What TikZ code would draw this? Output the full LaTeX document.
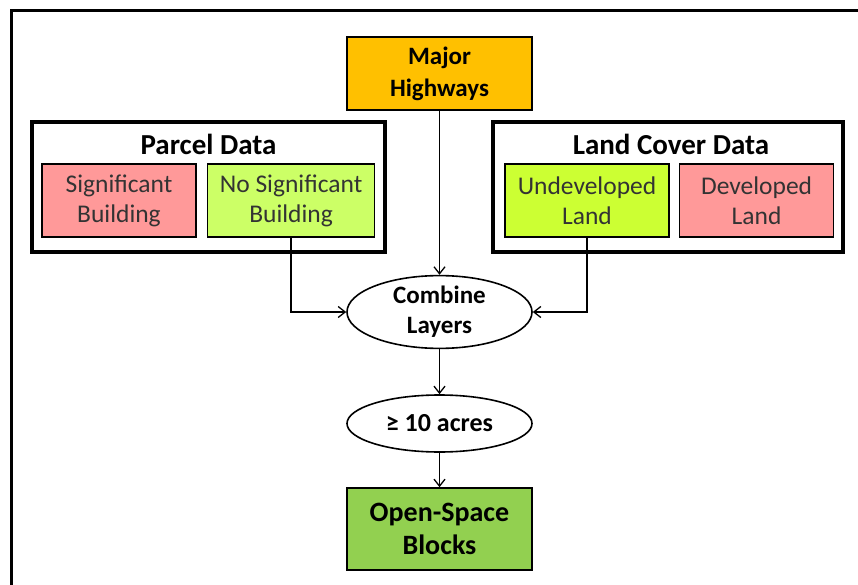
\documentclass[tikz,border=0pt]{standalone}
\usepackage{fontspec}
\setmainfont{Carlito}
\usepackage{tikz}
\usetikzlibrary{shapes.geometric,arrows.meta,positioning}

\definecolor{hwyorange}{RGB}{255,192,0}
\definecolor{builtpink}{RGB}{255,153,153}
\definecolor{openlime}{RGB}{204,255,102}
\definecolor{undevlime}{RGB}{204,255,51}
\definecolor{blockgreen}{RGB}{146,208,80}

\begin{document}
\begin{tikzpicture}[x=1pt,y=-1pt,
    every node/.style={align=center,inner sep=0pt},
    datagroup/.style={draw,line width=4pt,minimum height=130pt},
    layer/.style={draw,line width=1.6pt,minimum height=73pt,text=black!80,
      font=\fontsize{25.5}{30}\selectfont},
    grouptitle/.style={font=\fontsize{29}{33}\selectfont\bfseries},
    process/.style={draw,ellipse,line width=1.6pt,minimum width=185pt,
      font=\fontsize{25}{30}\selectfont\bfseries},
    result/.style={draw,line width=1.6pt,minimum width=185pt,
      font=\fontsize{26}{32}\selectfont\bfseries},
    arr/.style={-{Straight Barb[length=7pt,width=11pt]},line width=1.3pt}]

    \useasboundingbox (0,0) rectangle (858,585);
    \draw[line width=3pt] (11,585) |- (858,11);

    % source layers
    \node[result,fill=hwyorange,minimum height=73pt,font=\fontsize{25}{32}\selectfont\bfseries]
      (hwy) at (439.5,73.5) {Major\\Highways};

    \node[datagroup,minimum width=353pt] (parcel) at (208.5,187) {};
    \node[grouptitle] (parceltitle) at (208.5,144) {Parcel Data};
    \node[layer,fill=builtpink,minimum width=154pt] (sig) at (119,200.5) {Significant\\Building};
    \node[layer,fill=openlime,minimum width=167pt,right=10pt of sig] (nosig) {No Significant\\Building};

    \node[datagroup,minimum width=350pt] (land) at (668,187) {};
    \node[grouptitle] (landtitle) at (671,144) {Land Cover Data};
    \node[layer,fill=undevlime,minimum width=164pt] (undev) at (587,200.5) {Undeveloped\\Land};
    \node[layer,fill=builtpink,minimum width=154pt,right=9pt of undev] (dev) {Developed\\Land};

    % processing
    \node[process,minimum height=70pt] (combine) at (439.5,312) {Combine\\Layers};
    \node[process,minimum height=57pt,font=\fontsize{26}{30}\selectfont\bfseries]
      (acres) at (439.5,423.5) {≥ 10 acres};
    \node[result,fill=blockgreen,minimum height=82pt,font=\fontsize{28}{33}\selectfont\bfseries]
      (blocks) at (439.5,529) {Open-Space\\Blocks};

    \draw[arr] (hwy) -- (combine);
    \draw[arr] (nosig.south) |- (combine.west);
    \draw[arr] (undev.south) |- (combine.east);
    \draw[arr] (combine) -- (acres);
    \draw[arr] (acres) -- (blocks);
  \end{tikzpicture}
\end{document}
